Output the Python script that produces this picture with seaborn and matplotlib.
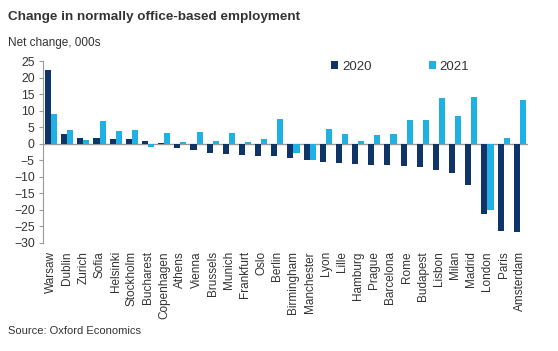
import numpy as np
import pandas as pd
import matplotlib
matplotlib.use("Agg")
import matplotlib.pyplot as plt
import seaborn as sns

# city categories, left to right
cities = ['Warsaw', 'Dublin', 'Zurich', 'Sofia', 'Helsinki', 'Stockholm',
          'Bucharest', 'Copenhagen', 'Athens', 'Vienna', 'Brussels', 'Munich',
          'Frankfurt', 'Oslo', 'Berlin', 'Birmingham', 'Manchester', 'Lyon',
          'Lille', 'Hamburg', 'Prague', 'Barcelona', 'Rome', 'Budapest',
          'Lisbon', 'Milan', 'Madrid', 'London', 'Paris', 'Amsterdam']

# net change, 000s
vals2020 = [22.3, 3.0, 1.8, 1.7, 1.5, 1.4, 0.7, 0.2, -1.3, -1.8, -2.8, -3.0,
            -3.5, -3.6, -3.8, -4.2, -4.9, -5.5, -5.8, -6.0, -6.3, -6.4, -6.8,
            -7.1, -8.1, -8.9, -12.4, -21.4, -26.3, -26.6]
vals2021 = [9.1, 4.2, 1.1, 7.0, 3.9, 4.1, -1.0, 3.1, 0.5, 3.5, 0.7, 3.1,
            0.4, 1.4, 7.4, -2.9, -4.9, 4.6, 2.9, 0.8, 2.7, 2.9, 7.1,
            7.1, 13.9, 8.5, 14.0, -20.1, 1.6, 13.3]

years = ['2020', '2021']
palette = {'2020': '#0E3468', '2021': '#1FB0E4'}

df = pd.DataFrame({
    'city': cities * 2,
    'year': ['2020'] * len(cities) + ['2021'] * len(cities),
    'value': vals2020 + vals2021,
})

plt.rcParams['font.family'] = ['Liberation Sans', 'DejaVu Sans']
textColor = '#333333'

fig = plt.figure(figsize=(5.58, 3.51), dpi=100)
ax = fig.add_axes([0.077, 0.308, 0.869, 0.518])

sns.barplot(data=df, x='city', y='value', hue='year', hue_order=years,
            palette=palette, width=0.75, saturation=1, ax=ax)

ax.set_ylim(-30, 25)
ax.set_xlim(-0.5, len(cities) - 0.5)
ax.set_yticks(np.arange(-30, 26, 5))
ax.axhline(0, color='#9a9a9a', lw=1, zorder=0.5)

ax.set_xlabel('')
ax.set_ylabel('')
for side in ['top', 'right', 'bottom']:
    ax.spines[side].set_visible(False)
ax.spines['left'].set_color('#9a9a9a')
ax.spines['left'].set_linewidth(0.8)
ax.tick_params(axis='y', direction='out', length=3, width=0.8, color='#9a9a9a',
               labelsize=8.8, labelcolor=textColor, pad=3)
ax.tick_params(axis='x', length=0, labelsize=8.5, labelcolor=textColor,
               pad=6, rotation=90)

# legend, no frame, two columns
handles, labels = ax.get_legend_handles_labels()
ax.legend(handles, labels, ncol=2, frameon=False, loc='center left',
          bbox_to_anchor=(0.572, 0.809), bbox_transform=fig.transFigure,
          handlelength=0.55, handleheight=0.55, handletextpad=0.3,
          columnspacing=4.3, fontsize=9.5, labelcolor=textColor)

fig.text(0.014, 0.952, 'Change in normally office-based employment',
         fontsize=9.7, fontweight='bold', color=textColor, va='center')
fig.text(0.014, 0.878, 'Net change, 000s', fontsize=8.5, color=textColor,
         va='center')
fig.text(0.014, 0.058, 'Source: Oxford Economics', fontsize=8, color=textColor,
         va='center')

fig.savefig('out.png', dpi=100)
